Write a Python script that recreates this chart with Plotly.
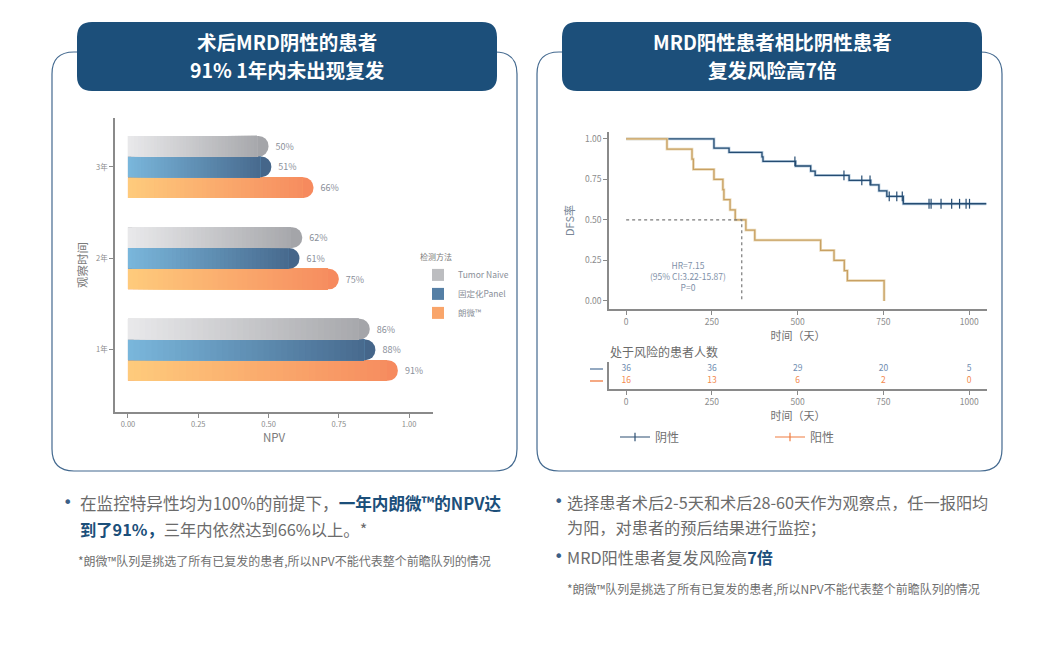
import numpy as np
import plotly.graph_objects as go

W, H = 1042, 651
FONT = "Noto Sans CJK SC, Noto Sans, sans-serif"

# ---------------- left chart data ----------------
periods = ["1年", "2年", "3年"]
npv_langwei = [0.96, 0.75, 0.66]      # bar lengths as drawn
npv_panel = [0.88, 0.61, 0.51]
npv_naive = [0.86, 0.62, 0.50]
labels_langwei = ["91%", "75%", "66%"]
labels_panel = ["88%", "61%", "51%"]
labels_naive = ["86%", "62%", "50%"]
npv_ticks = [0, 0.25, 0.5, 0.75, 1.0]

# ---------------- KM data ----------------
neg_times = [0, 256, 300, 396, 399, 494, 538, 551, 650, 713, 737, 760, 808, 1050]
neg_surv = [1.0, 0.944, 0.917, 0.889, 0.862, 0.833, 0.802, 0.775, 0.744, 0.717, 0.680, 0.645, 0.600, 0.600]
neg_censor = [492, 635, 687, 711, 767, 789, 805, 883, 889, 918, 949, 972, 991, 1001]
pos_times = [0, 119, 192, 196, 256, 282, 285, 303, 318, 349, 375, 567, 606, 636, 645, 752]
pos_surv = [1.0, 0.9375, 0.875, 0.8125, 0.75, 0.6875, 0.625, 0.5625, 0.5, 0.4375, 0.375, 0.3125, 0.25, 0.1875, 0.125, 0.0]
median_pos = 337
km_ticks = [0, 250, 500, 750, 1000]
surv_ticks = [0, 0.25, 0.5, 0.75, 1.0]
risk_times = [0, 250, 500, 750, 1000]
risk_neg = [36, 36, 29, 20, 5]
risk_pos = [16, 13, 6, 2, 0]

fig = go.Figure()

def h2r(h):
    h = h.lstrip("#")
    return [int(h[i:i + 2], 16) for i in (0, 2, 4)]

def lerp(c0, c1, t):
    a, b = h2r(c0), h2r(c1)
    return "rgb(%d,%d,%d)" % tuple(round(a[i] + (b[i] - a[i]) * t) for i in range(3))

BW = 0.226
series = [
    ("朗微™", npv_langwei, labels_langwei, "#fecb7c", "#f68a5e", -1.5 * BW),
    ("固定化Panel", npv_panel, labels_panel, "#7ab7dc", "#45668a", -0.5 * BW),
    ("Tumor Naive", npv_naive, labels_naive, "#e9e9eb", "#a4a5a9", 0.5 * BW),
]
K = 40
for name, vals, labs, c0, c1, off in series:
    fig.add_trace(go.Bar(
        y=periods, x=vals, orientation="h", xaxis="x", yaxis="y",
        marker=dict(color=c1, cornerradius="50%", line=dict(width=0)),
        offset=off, width=BW, showlegend=False, hoverinfo="skip",
        text=["\u00a0\u00a0" + l for l in labs], textposition="outside",
        textfont=dict(size=9, color="#8a8f99", family=FONT), cliponaxis=False))
    ends = [v - 0.04 for v in vals]
    for k in range(K):
        t0 = k / K
        base = [e * t0 for e in ends]
        length = [e * (1 - t0) for e in ends]
        tc = (k + 0.5) / K * 0.95
        fig.add_trace(go.Bar(
            y=periods, x=length, base=base, orientation="h", xaxis="x", yaxis="y",
            marker=dict(color=lerp(c0, c1, tc), line=dict(width=0)),
            offset=off, width=BW, showlegend=False, hoverinfo="skip"))

# legend entries for bars
for name, col in [("Tumor Naive", "#bcbdc0"), ("固定化Panel", "#557fa5"), ("朗微™", "#f9a56a")]:
    fig.add_trace(go.Bar(y=[None], x=[None], orientation="h", name=name, xaxis="x", yaxis="y",
                         marker=dict(color=col, line=dict(width=0)), legend="legend", showlegend=True))

# ---------------- KM curves ----------------
NEG_C, NEG_SH = "#254c72", "#bcd0e2"
POS_C, POS_SH = "#c8a163", "#ecdcbd"
for t, s, c, sh in [(neg_times, neg_surv, NEG_C, NEG_SH), (pos_times, pos_surv, POS_C, POS_SH)]:
    fig.add_trace(go.Scatter(x=t, y=s, mode="lines", line=dict(color=sh, width=2.8, shape="hv"),
                             xaxis="x2", yaxis="y2", showlegend=False, hoverinfo="skip"))
    fig.add_trace(go.Scatter(x=t, y=s, mode="lines", line=dict(color=c, width=1.3, shape="hv"),
                             xaxis="x2", yaxis="y2", showlegend=False, hoverinfo="skip"))

idx = np.searchsorted(np.array(neg_times), np.array(neg_censor), side="right") - 1
cens_y = [neg_surv[i] for i in idx]
fig.add_trace(go.Scatter(x=neg_censor, y=cens_y, mode="markers",
                         marker=dict(symbol="line-ns-open", size=7, color=NEG_C,
                                     line=dict(color=NEG_C, width=1.2)),
                         xaxis="x2", yaxis="y2", showlegend=False, hoverinfo="skip"))

# median lines
fig.add_trace(go.Scatter(x=[0, median_pos, median_pos], y=[0.5, 0.5, 0], mode="lines",
                         line=dict(color="#7a7a7a", width=1.2, dash="dot"),
                         xaxis="x2", yaxis="y2", showlegend=False, hoverinfo="skip"))

# risk table
fig.add_trace(go.Scatter(x=risk_times, y=[1] * 5, text=[str(v) for v in risk_neg], mode="text",
                         textfont=dict(size=8.5, color="#6f8db0", family=FONT),
                         xaxis="x3", yaxis="y3", showlegend=False, hoverinfo="skip"))
fig.add_trace(go.Scatter(x=risk_times, y=[0] * 5, text=[str(v) for v in risk_pos], mode="text",
                         textfont=dict(size=8.5, color="#f38a4e", family=FONT),
                         xaxis="x3", yaxis="y3", showlegend=False, hoverinfo="skip"))

# legend2 entries
for name, col in [("阴性", "#2d4f72"), ("阳性", "#f07c40")]:
    fig.add_trace(go.Scatter(x=[None], y=[None], name=name, mode="lines+markers",
                             line=dict(color=col, width=1.2),
                             marker=dict(symbol="line-ns-open", size=6, color=col,
                                         line=dict(color=col, width=1.2)),
                             xaxis="x2", yaxis="y2", legend="legend2", showlegend=True))

# ---------------- axes ----------------
TICKF = dict(family=FONT, color="#8c8c8c")
AX = dict(showline=True, linecolor="#8a8a8a", linewidth=1.5, ticks="outside", ticklen=4,
          tickcolor="#8a8a8a", showgrid=False, zeroline=False)

def px_x(a, b):
    return [a / W, b / W]

def px_y(top, bot):
    return [1 - bot / H, 1 - top / H]

fig.update_layout(
    xaxis=dict(AX, domain=px_x(115, 433), range=[-0.046, 1.085], tickvals=npv_ticks, tickformat=".2f",
               tickfont=dict(TICKF, size=7.5), anchor="y",
               title=dict(text="NPV", font=dict(family=FONT, size=11.5, color="#7a7a7a"), standoff=6)),
    yaxis=dict(AX, domain=px_y(118, 412), type="category", categoryorder="array", categoryarray=periods,
               range=[-0.68, 2.535], tickfont=dict(TICKF, size=7.5), anchor="x",
               title=dict(text="观察时间", font=dict(family=FONT, size=11.5, color="#7a7a7a"), standoff=6)),
    xaxis2=dict(AX, domain=px_x(609, 987), range=[-50, 1052], tickvals=km_ticks, anchor="y2",
                tickfont=dict(TICKF, size=8.5),
                title=dict(text="时间（天）", font=dict(family=FONT, size=11, color="#6f6f6f"), standoff=6)),
    yaxis2=dict(AX, domain=px_y(132, 309), range=[-0.05, 1.043], tickvals=surv_ticks, tickformat=".2f",
                tickfont=dict(TICKF, size=8.5), anchor="x2",
                title=dict(text="DFS率", font=dict(family=FONT, size=11, color="#7a8797"), standoff=8)),
    xaxis3=dict(AX, domain=px_x(609, 987), range=[-50, 1052], tickvals=km_ticks, anchor="y3",
                tickfont=dict(TICKF, size=8.5),
                title=dict(text="时间（天）", font=dict(family=FONT, size=11, color="#6f6f6f"), standoff=4)),
    yaxis3=dict(showline=True, linecolor="#8a8a8a", linewidth=1.5, showgrid=False, zeroline=False,
                showticklabels=False, ticks="", domain=px_y(362, 389), range=[-0.667, 1.583], anchor="x3"),
    barmode="overlay",
    legend=dict(x=418 / W, y=1 - 250 / H, xanchor="left", yanchor="top", bgcolor="rgba(0,0,0,0)",
                title=dict(text="检测方法", font=dict(family=FONT, size=8, color="#7a7a7a")),
                font=dict(family=FONT, size=8.5, color="#8a8f99"), tracegroupgap=0, itemwidth=30),
    legend2=dict(x=615 / W, y=1 - 437 / H, xanchor="left", yanchor="middle", orientation="h",
                 bgcolor="rgba(0,0,0,0)", entrywidth=110, entrywidthmode="pixels",
                 font=dict(family=FONT, size=12, color="#6f6f6f")),
    width=W, height=H, margin=dict(l=0, r=0, t=0, b=0),
    paper_bgcolor="white", plot_bgcolor="rgba(0,0,0,0)",
    font=dict(family=FONT),
)

# ---------------- shapes ----------------
def rrect(x0, y0, x1, y1, r):
    def P(x, y):
        return "%.5f,%.5f" % (x / W, 1 - y / H)
    return ("M" + P(x0 + r, y0) + " L" + P(x1 - r, y0) + " Q" + P(x1, y0) + " " + P(x1, y0 + r) +
            " L" + P(x1, y1 - r) + " Q" + P(x1, y1) + " " + P(x1 - r, y1) +
            " L" + P(x0 + r, y1) + " Q" + P(x0, y1) + " " + P(x0, y1 - r) +
            " L" + P(x0, y0 + r) + " Q" + P(x0, y0) + " " + P(x0 + r, y0) + " Z")

shapes = []
for x0, x1 in [(52, 517), (537, 1002)]:
    shapes.append(dict(type="path", xref="paper", yref="paper", path=rrect(x0, 52, x1, 471, 22),
                       line=dict(color="#43698f", width=1.2), fillcolor="rgba(0,0,0,0)", layer="below"))
for x0, x1 in [(77, 497), (562, 982)]:
    shapes.append(dict(type="path", xref="paper", yref="paper", path=rrect(x0, 22, x1, 91, 15),
                       line=dict(width=0), fillcolor="#1c4f7a", layer="below"))
# risk-table row keys
for yy, col in [(369, "#5a7aa0"), (381, "#f07a40")]:
    shapes.append(dict(type="line", xref="paper", yref="paper", x0=590 / W, x1=603 / W,
                       y0=1 - yy / H, y1=1 - yy / H, line=dict(color=col, width=1.3)))
fig.update_layout(shapes=shapes)

# ---------------- annotations ----------------
ann = []
def A(text, x, y, size, color="#6b6b6b", xanchor="left", xref="paper", yref="paper", family=FONT, **kw):
    d = dict(text=text, x=x if xref != "paper" else x / W, y=y if yref != "paper" else 1 - y / H,
             xref=xref, yref=yref, xanchor=xanchor, yanchor="middle", showarrow=False,
             font=dict(family=family, size=size, color=color), borderpad=0)
    d.update(kw)
    ann.append(d)

def blue(s):
    return "<b><span style='color:#1c4f7a'>" + s + "</span></b>"

A("<b>术后MRD阴性的患者</b>", 287, 41, 19.5, "white", "center")
A("<b>91% 1年内未出现复发</b>", 287, 69.5, 19.5, "white", "center")
A("<b>MRD阳性患者相比阴性患者</b>", 772, 41, 19.5, "white", "center")
A("<b>复发风险高7倍</b>", 772, 69.5, 19.5, "white", "center")

BUL = "DejaVu Sans, sans-serif"
A("•", 67, 502, 16, "#3b5f86", "center", family=BUL)
A("在监控特异性均为100%的前提下，" + blue("一年内朗微™的NPV达"), 79, 503, 16.6)
A(blue("到了91%，") + "三年内依然达到66%以上。*", 79, 529, 16.3)
A("*朗微™队列是挑选了所有已复发的患者,所以NPV不能代表整个前瞻队列的情况", 77, 560, 12, "#6f6f6f")

A("•", 558, 501, 16, "#3b5f86", "center", family=BUL)
A("选择患者术后2-5天和术后28-60天作为观察点，任一报阳均", 566, 502, 16.2)
A("为阳，对患者的预后结果进行监控；", 566, 527, 16.2)
A("•", 558, 556, 16, "#3b5f86", "center", family=BUL)
A("MRD阳性患者复发风险高" + blue("7倍"), 566, 557, 16.2)
A("*朗微™队列是挑选了所有已复发的患者,所以NPV不能代表整个前瞻队列的情况", 566, 588, 12, "#6f6f6f")

A("处于风险的患者人数", 609, 351, 12, "#6b6b6b")
A("HR=7.15<br>(95% CI:3.22-15.87)<br>P=0", 181, 0.155, 8.5, "#8090a8", "center", xref="x2", yref="y2")
fig.update_layout(annotations=ann)

fig.write_html("out.html")
